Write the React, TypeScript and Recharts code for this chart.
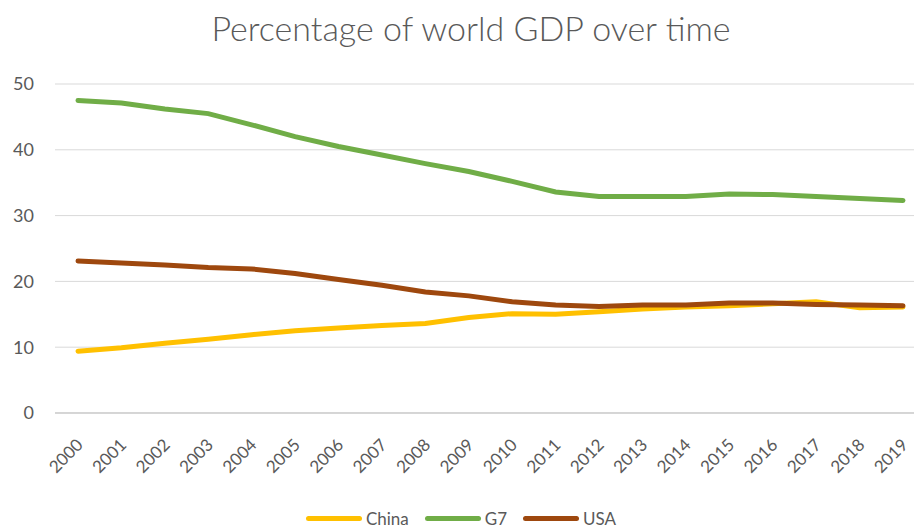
import React from "react";
import {
  LineChart,
  Line,
  XAxis,
  YAxis,
  CartesianGrid,
} from "recharts";

const years = [
  "2000", "2001", "2002", "2003", "2004", "2005", "2006", "2007", "2008", "2009",
  "2010", "2011", "2012", "2013", "2014", "2015", "2016", "2017", "2018", "2019",
];
const china = [
  9.4, 9.9, 10.6, 11.2, 11.9, 12.5, 12.9, 13.3, 13.6, 14.5,
  15.1, 15.0, 15.4, 15.8, 16.1, 16.3, 16.6, 16.9, 16.0, 16.1,
];
const g7 = [
  47.5, 47.1, 46.2, 45.5, 43.8, 42.0, 40.5, 39.2, 37.9, 36.7,
  35.2, 33.6, 32.9, 32.9, 32.9, 33.3, 33.2, 32.9, 32.6, 32.3,
];
const usa = [
  23.1, 22.8, 22.5, 22.1, 21.9, 21.2, 20.3, 19.4, 18.4, 17.8,
  16.9, 16.4, 16.2, 16.4, 16.4, 16.7, 16.7, 16.5, 16.4, 16.3,
];
const yTicks = [0, 10, 20, 30, 40, 50];

const series = [
  { key: "china", name: "China", color: "#FFC000" },
  { key: "g7", name: "G7", color: "#70AD47" },
  { key: "usa", name: "USA", color: "#9E480E" },
];

const data = years.map((y, i) => ({
  year: y,
  china: china[i],
  g7: g7[i],
  usa: usa[i],
}));

const FONT = "Lato, 'Open Sans', sans-serif";
const GREY = "#595959";

function YearTick({ x, y, payload }: any) {
  const ax = x + 3;
  const ay = y + 22;
  return (
    <text
      x={ax}
      y={ay}
      transform={`rotate(-45, ${ax}, ${ay})`}
      textAnchor="end"
      dominantBaseline="middle"
      fill={GREY}
      fontSize={17}
      fontFamily={FONT}
    >
      {payload.value}
    </text>
  );
}

export default function App() {
  return (
    <div
      style={{
        position: "absolute",
        left: 0,
        top: 0,
        width: 914,
        height: 531,
        background: "#fff",
        fontFamily: FONT,
      }}
    >
      <div
        style={{
          position: "absolute",
          top: 7,
          left: 0,
          width: 914,
          textAlign: "center",
          fontSize: 34,
          color: GREY,
          fontWeight: 300,
          paddingLeft: 28,
          boxSizing: "border-box",
        }}
      >
        Percentage of world GDP over time
      </div>
      <LineChart
        width={914}
        height={531}
        data={data}
        margin={{ top: 84, right: 0, bottom: 0, left: 0 }}
      >
        <CartesianGrid vertical={false} stroke="#d9d9d9" strokeWidth={1} />
        <XAxis
          dataKey="year"
          tick={<YearTick />}
          tickLine={false}
          axisLine={{ stroke: "#bfbfbf" }}
          padding={{ left: 23, right: 11 }}
          interval={0}
          height={118}
        />
        <YAxis
          domain={[0, 50]}
          ticks={yTicks}
          width={55}
          tickLine={false}
          axisLine={false}
          tickSize={0}
          tickMargin={21}
          tick={{ fill: GREY, fontSize: 18, fontFamily: FONT }}
        />
        {series.map((s) => (
          <Line
            key={s.key}
            type="linear"
            dataKey={s.key}
            name={s.name}
            stroke={s.color}
            strokeWidth={5}
            strokeLinecap="round"
            dot={false}
            isAnimationActive={false}
          />
        ))}
      </LineChart>
      <div
        style={{
          position: "absolute",
          top: 508,
          left: 0,
          width: 914,
          display: "flex",
          justifyContent: "center",
          paddingLeft: 8,
          boxSizing: "border-box",
          fontSize: 17,
          color: GREY,
        }}
      >
        {series.map((s) => (
          <div
            key={s.key}
            style={{ display: "flex", alignItems: "center", margin: "0 8px" }}
          >
            <span
              style={{
                display: "inline-block",
                width: 56,
                height: 5,
                borderRadius: 3,
                background: s.color,
                marginRight: 4,
              }}
            />
            <span>{s.name}</span>
          </div>
        ))}
      </div>
    </div>
  );
}
